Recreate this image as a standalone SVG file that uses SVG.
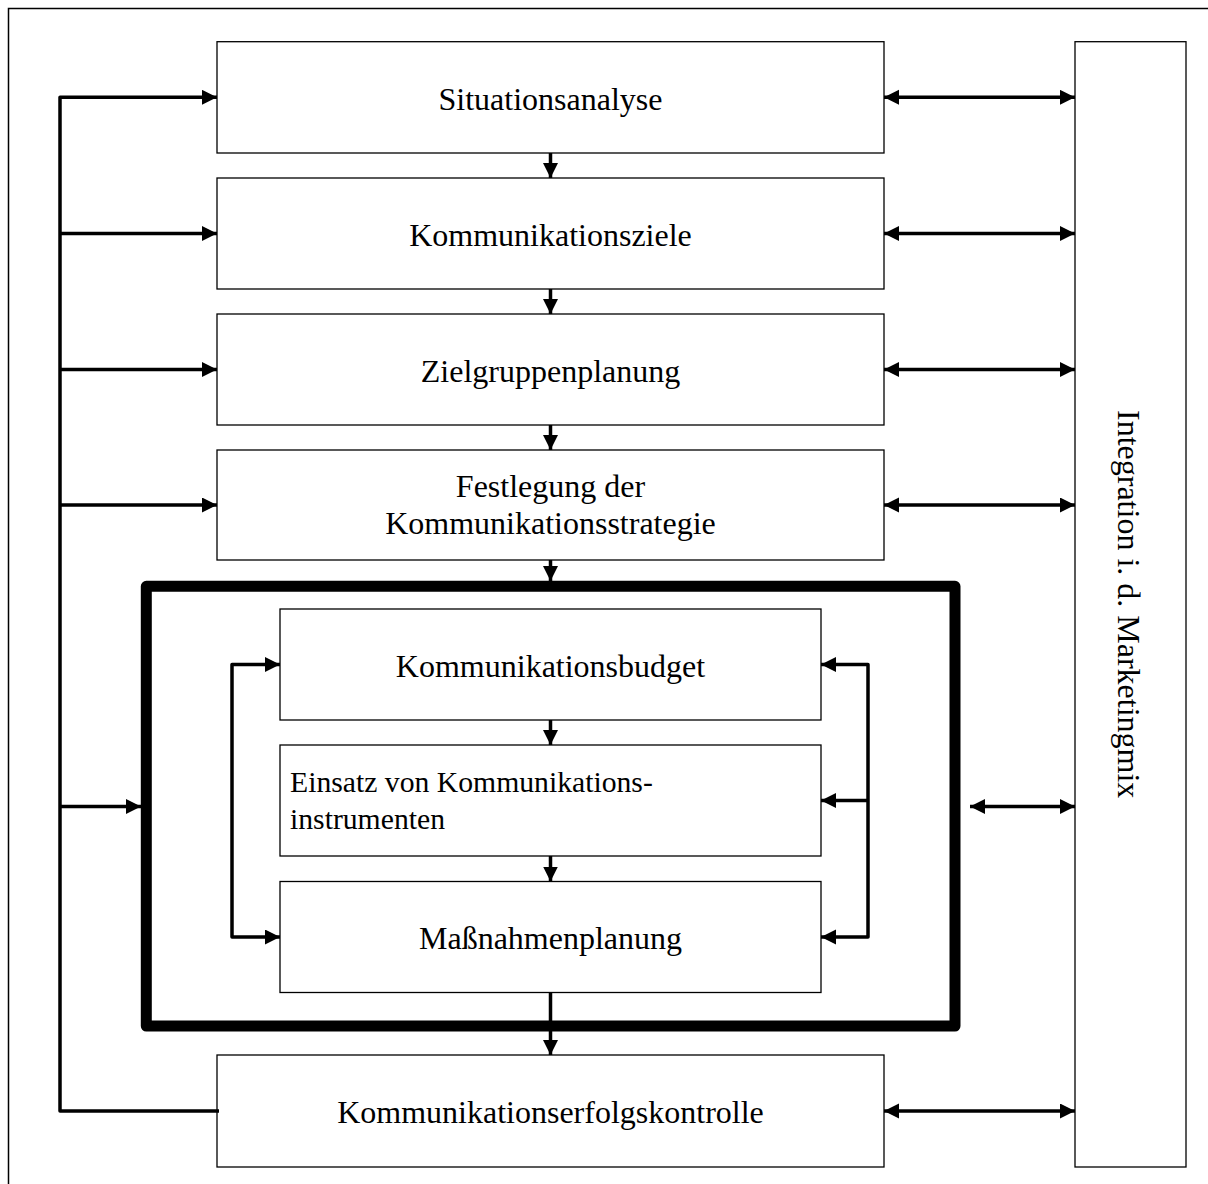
<svg xmlns="http://www.w3.org/2000/svg" width="1208" height="1184" viewBox="0 0 1208 1184">
<style>
.box{fill:#fff;stroke:#000;stroke-width:1.3}
.t{font-family:"Liberation Serif","Times New Roman",serif;font-size:32px;fill:#000}
.c{text-anchor:middle}
.ln{fill:none;stroke:#000;stroke-width:3.5;stroke-linejoin:round}
</style>
<defs>
<marker id="ah" markerUnits="userSpaceOnUse" markerWidth="16" markerHeight="16" refX="15" refY="7.5" orient="auto-start-reverse" viewBox="0 0 16 16">
<path d="M0,0 L15,7.5 L0,15 z" fill="#000"/>
</marker>
</defs>
<rect x="8.5" y="8.5" width="1220" height="1200" fill="#fff" stroke="#000" stroke-width="1.5"/>

<g id="frame-block">
<rect x="146.3" y="586.3" width="808.7" height="439.7" fill="none" stroke="#000" stroke-width="11" stroke-linejoin="round"/>
</g>

<g id="situationsanalyse"><rect class="box" x="217" y="41.7" width="667" height="111.3"/><text class="t c" x="550.5" y="110">Situationsanalyse</text></g>
<g id="kommunikationsziele"><rect class="box" x="217" y="178" width="667" height="111"/><text class="t c" x="550.5" y="246">Kommunikationsziele</text></g>
<g id="zielgruppenplanung"><rect class="box" x="217" y="314" width="667" height="111"/><text class="t c" x="550.5" y="382">Zielgruppenplanung</text></g>
<g id="festlegung"><rect class="box" x="217" y="450" width="667" height="110"/><text class="t c" x="550.5" y="497">Festlegung der</text><text class="t c" x="550.5" y="534">Kommunikationsstrategie</text></g>
<g id="budget"><rect class="box" x="280" y="609" width="541" height="111"/><text class="t c" x="550.5" y="677">Kommunikationsbudget</text></g>
<g id="einsatz"><rect class="box" x="280" y="745" width="541" height="111"/><text class="t" style="font-size:29.7px" x="290" y="792">Einsatz von Kommunikations-</text><text class="t" style="font-size:29.7px" x="290" y="829">instrumenten</text></g>
<g id="massnahmen"><rect class="box" x="280" y="881.5" width="541" height="111"/><text class="t c" x="550.5" y="949">Maßnahmenplanung</text></g>
<g id="kontrolle"><rect class="box" x="217" y="1055" width="667" height="112"/><text class="t c" x="550.5" y="1123">Kommunikationserfolgskontrolle</text></g>
<g id="integration"><rect class="box" x="1075" y="41.7" width="111" height="1125.3"/><text class="t" transform="translate(1118,410) rotate(90)">Integration i. d. Marketingmix</text></g>

<g id="connectors">
<path class="ln" d="M550.5,153 V178" marker-end="url(#ah)"/>
<path class="ln" d="M550.5,289 V314" marker-end="url(#ah)"/>
<path class="ln" d="M550.5,425 V450" marker-end="url(#ah)"/>
<path class="ln" d="M550.5,560 V581" marker-end="url(#ah)"/>
<path class="ln" d="M550.5,720 V745" marker-end="url(#ah)"/>
<path class="ln" d="M550.5,856 V881.5" marker-end="url(#ah)"/>
<path class="ln" d="M550.5,992.5 V1055" marker-end="url(#ah)"/>

<path class="ln" d="M219,1111 H60 V97.3 H217" marker-end="url(#ah)"/>
<path class="ln" d="M60,233.5 H217" marker-end="url(#ah)"/>
<path class="ln" d="M60,369.5 H217" marker-end="url(#ah)"/>
<path class="ln" d="M60,505 H217" marker-end="url(#ah)"/>
<path class="ln" d="M60,806.5 H141" marker-end="url(#ah)"/>

<path class="ln" d="M884,97.3 H1075" marker-start="url(#ah)" marker-end="url(#ah)"/>
<path class="ln" d="M884,233.5 H1075" marker-start="url(#ah)" marker-end="url(#ah)"/>
<path class="ln" d="M884,369.5 H1075" marker-start="url(#ah)" marker-end="url(#ah)"/>
<path class="ln" d="M884,505 H1075" marker-start="url(#ah)" marker-end="url(#ah)"/>
<path class="ln" d="M970,806.5 H1075" marker-start="url(#ah)" marker-end="url(#ah)"/>
<path class="ln" d="M884,1111 H1075" marker-start="url(#ah)" marker-end="url(#ah)"/>

<path class="ln" d="M280,664.5 H232 V937 H280" marker-start="url(#ah)" marker-end="url(#ah)"/>
<path class="ln" d="M821,664.5 H868 V937 H821" marker-start="url(#ah)" marker-end="url(#ah)"/>
<path class="ln" d="M868,800.5 H821" marker-end="url(#ah)"/>
</g>
</svg>
